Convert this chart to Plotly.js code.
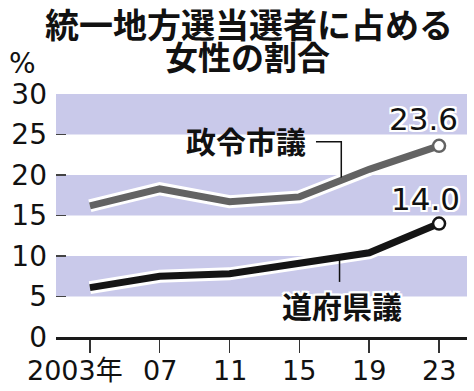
<!DOCTYPE html>
<html>
<head>
<meta charset="utf-8">
<script src="https://cdn.plot.ly/plotly-3.0.1.min.js"></script>
<style>
html,body{margin:0;padding:0;background:#fff;}
#chart{width:474px;height:391px;}
</style>
</head>
<body>
<div id="chart"></div>
<script>
// ---- data ----
const years = [2003, 2007, 2011, 2015, 2019, 2023];
const cityCouncil = [16.2, 18.3, 16.7, 17.3, 20.7, 23.6];      // 政令市議
const prefCouncil = [6.1, 7.5, 7.8, 9.2, 10.4, 14.0];          // 道府県議
const xTickLabels = ["2003年", "07", "11", "15", "19", "23"];
const yTicks = [0, 5, 10, 15, 20, 25, 30];
const bandRanges = [[5, 10], [15, 20], [25, 30]];
const seriesNames = ["政令市議", "道府県議"];
const titleLines = ["統一地方選当選者に占める", "女性の割合"];

const numFont = "DejaVu Sans, Noto Sans CJK JP, sans-serif";
const jpFont = "Noto Sans CJK JP, sans-serif";
const grayC = "#636363", blackC = "#151515", bandC = "#c9c9ea";

function casing(y) {
  return {x: years, y: y, mode: "lines", hoverinfo: "skip", showlegend: false,
          line: {color: "#ffffff", width: 13}};
}
function main(y, c) {
  return {x: years, y: y, mode: "lines", hoverinfo: "skip", showlegend: false,
          line: {color: c, width: 7}};
}
function endMark(y, c) {
  return {x: [years[years.length - 1]], y: [y[y.length - 1]], mode: "markers",
          hoverinfo: "skip", showlegend: false,
          marker: {symbol: "circle", size: 12, color: "#ffffff", line: {color: c, width: 2.5}}};
}

const traces = [
  casing(cityCouncil), main(cityCouncil, grayC),
  casing(prefCouncil), main(prefCouncil, blackC),
  endMark(cityCouncil, grayC), endMark(prefCouncil, blackC)
];

const shapes = bandRanges.map(r => ({
  type: "rect", xref: "paper", yref: "y", x0: 0, x1: 1, y0: r[0], y1: r[1],
  fillcolor: bandC, line: {width: 0}, layer: "below"
}));
// leader lines
shapes.push({type: "path", xref: "x", yref: "y",
  path: "M 2015.95 24.1 L 2017.4 24.1 L 2017.4 19.7",
  line: {color: "#111", width: 1.5}});
shapes.push({type: "line", xref: "x", yref: "y",
  x0: 2017.3, x1: 2017.3, y0: 9.9, y1: 6.8,
  line: {color: "#111", width: 1.5}});

const halo = "2px 0 0 #fff, -2px 0 0 #fff, 0 2px 0 #fff, 0 -2px 0 #fff, 2px 2px 0 #fff, -2px -2px 0 #fff, 2px -2px 0 #fff, -2px 2px 0 #fff";

const annotations = [];
// title lines
annotations.push({xref: "paper", yref: "paper", x: 0.4696, y: 1.289, text: titleLines[0],
  showarrow: false, xanchor: "center", yanchor: "middle",
  font: {family: jpFont, size: 34, weight: 700, color: "#111"}});
annotations.push({xref: "paper", yref: "paper", x: 0.467, y: 1.157, text: titleLines[1],
  showarrow: false, xanchor: "center", yanchor: "middle",
  font: {family: jpFont, size: 33, weight: 700, color: "#111"}});
// % unit
annotations.push({xref: "paper", yref: "paper", x: -0.0803, y: 1.125, text: "%",
  showarrow: false, xanchor: "center", yanchor: "middle",
  font: {family: numFont, size: 28, color: "#111"}});
// x tick labels
years.forEach((yr, i) => {
  annotations.push({xref: "x", yref: "y", x: yr, y: 0, yshift: -33,
    xshift: i === 0 ? 35 : 0,
    text: xTickLabels[i], showarrow: false,
    xanchor: i === 0 ? "right" : "center", yanchor: "middle",
    font: {family: numFont, size: 27, color: "#111"}});
});
// series labels
annotations.push({xref: "x", yref: "y", x: 2011.97, y: 24.3, text: seriesNames[0],
  showarrow: false, xanchor: "center", yanchor: "middle",
  font: {family: jpFont, size: 30, weight: 700, color: "#111"}});
annotations.push({xref: "x", yref: "y", x: 2017.46, y: 3.95, text: seriesNames[1],
  showarrow: false, xanchor: "center", yanchor: "middle",
  font: {family: jpFont, size: 30, weight: 700, color: "#111", shadow: halo}});
// value labels
annotations.push({xref: "x", yref: "y", x: years[5], y: cityCouncil[5], xshift: -16, yshift: 27,
  text: cityCouncil[5].toFixed(1), showarrow: false, xanchor: "center", yanchor: "middle",
  font: {family: numFont, size: 31, color: "#111", shadow: halo}});
annotations.push({xref: "x", yref: "y", x: years[5], y: prefCouncil[5], xshift: -14, yshift: 25,
  text: prefCouncil[5].toFixed(1), showarrow: false, xanchor: "center", yanchor: "middle",
  font: {family: numFont, size: 31, color: "#111", shadow: halo}});

const layout = {
  width: 474, height: 391,
  margin: {l: 56, r: 7, t: 94, b: 54},
  paper_bgcolor: "#ffffff", plot_bgcolor: "rgba(0,0,0,0)",
  showlegend: false,
  xaxis: {
    range: [2001.06, 2024.6], showgrid: false, zeroline: false,
    showline: true, linecolor: "#1a1a1a", linewidth: 2.5,
    ticks: "outside", ticklen: 13, tickwidth: 1.5, tickcolor: "#333",
    tickvals: years, showticklabels: false, fixedrange: true
  },
  yaxis: {
    range: [0, 30], showgrid: false, zeroline: false, showline: false,
    ticks: "inside", ticklen: 10, tickwidth: 1.5, tickcolor: "#444",
    tickvals: yTicks, ticktext: yTicks.map(String),
    tickfont: {family: numFont, size: 28, color: "#111"},
    ticklabelstandoff: 8, fixedrange: true
  },
  shapes: shapes,
  annotations: annotations
};

Plotly.newPlot("chart", traces, layout, {staticPlot: true, displayModeBar: false});
</script>
</body>
</html>
